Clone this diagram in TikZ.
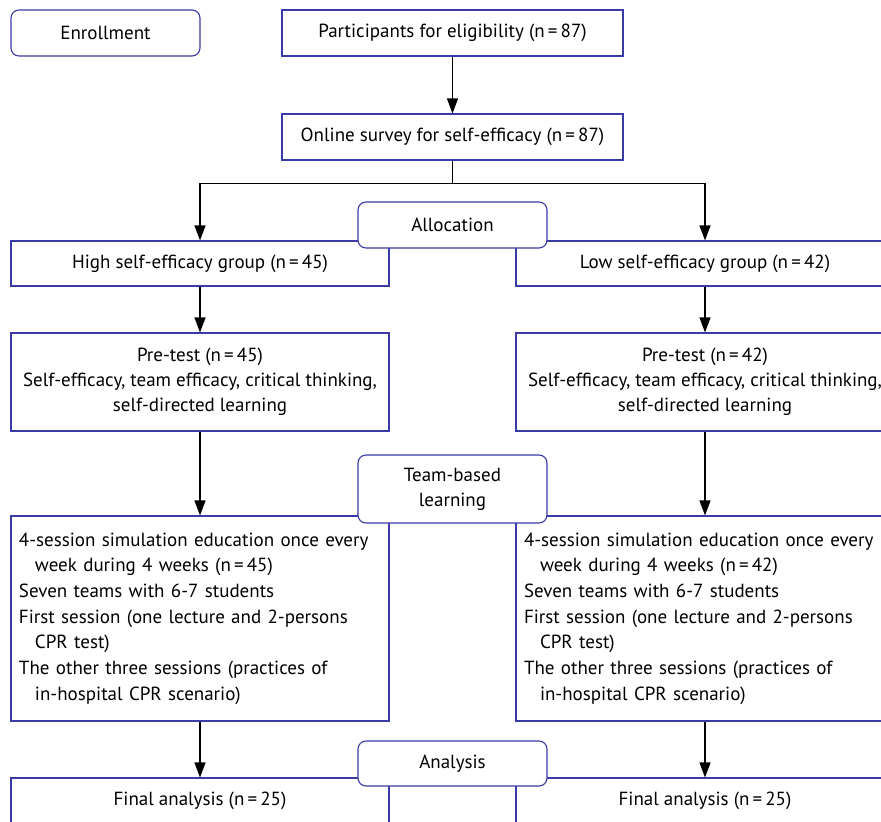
\documentclass[tikz,border=0pt]{standalone}
\usepackage{fontspec}
\setmainfont{PT Sans}
\usetikzlibrary{arrows.meta}
\definecolor{boxblue}{RGB}{58,58,168}
\tikzset{
  box/.style={draw=boxblue, line width=1.1pt, fill=white, rectangle, inner sep=0pt, align=center, font=\fontsize{19}{25}\selectfont},
  rbox/.style={box, rounded corners=8pt},
  edubox/.style={box, minimum width=378pt, minimum height=205pt, align=left, text width=362pt, font=\fontsize{19}{25.7}\selectfont},
  arr/.style={draw=black, line width=1.1pt, -{Triangle[width=11pt,length=15pt]}},
  ln/.style={draw=black, line width=1.1pt}
}
\begin{document}
\begin{tikzpicture}[x=1pt,y=-1pt]
\useasboundingbox (0,0) rectangle (881,822);
\clip (0,0) rectangle (881,822);
% boxes
\node[rbox, minimum width=189pt, minimum height=46pt] (enr) at (105.5,33) {Enrollment};
\node[box, minimum width=341pt, minimum height=46pt] (part) at (452.5,33) {Participants for eligibility (n\,=\,87)};
\node[box, minimum width=341pt, minimum height=46pt] (onl) at (452.5,137) {Online survey for self-efficacy (n\,=\,87)};
\node[box, minimum width=378pt, minimum height=45pt] (high) at (200,263.5) {High self-efficacy group (n\,=\,45)};
\node[box, minimum width=378pt, minimum height=45pt] (low) at (705,263.5) {Low self-efficacy group (n\,=\,42)};
\node[box, minimum width=378pt, minimum height=98pt] (preL) at (200,382) {Pre-test (n\,=\,45)\\Self-efficacy, team efficacy, critical thinking,\\self-directed learning};
\node[box, minimum width=378pt, minimum height=98pt] (preR) at (705,382) {Pre-test (n\,=\,42)\\Self-efficacy, team efficacy, critical thinking,\\self-directed learning};
\node[edubox] (eduL) at (200,618.5) {4-session simulation education once every\\\hspace*{16pt}week during 4 weeks (n\,=\,45)\\Seven teams with 6-7 students\\First session (one lecture and 2-persons\\\hspace*{16pt}CPR test)\\The other three sessions (practices of\\\hspace*{16pt}in-hospital CPR scenario)};
\node[edubox] (eduR) at (705,618.5) {4-session simulation education once every\\\hspace*{16pt}week during 4 weeks (n\,=\,42)\\Seven teams with 6-7 students\\First session (one lecture and 2-persons\\\hspace*{16pt}CPR test)\\The other three sessions (practices of\\\hspace*{16pt}in-hospital CPR scenario)};
\node[box, minimum width=378pt, minimum height=46pt] (finL) at (200,801) {Final analysis (n\,=\,25)};
\node[box, minimum width=378pt, minimum height=46pt] (finR) at (705,801) {Final analysis (n\,=\,25)};
% connectors
\draw[arr] (part.south) -- (onl.north);
\draw[ln] (onl.south) -- ++(0,23) coordinate (split);
\draw[arr] (split) -| (high.north);
\draw[arr] (split) -| (low.north);
\draw[arr] (high.south) -- (preL.north);
\draw[arr] (low.south) -- (preR.north);
\draw[arr] (preL.south) -- (eduL.north);
\draw[arr] (preR.south) -- (eduR.north);
\draw[arr] (eduL.south) -- (finL.north);
\draw[arr] (eduR.south) -- (finR.north);
% stage labels on top
\node[rbox, minimum width=189pt, minimum height=46pt] (alloc) at (452.5,225) {Allocation};
\node[rbox, minimum width=189pt, minimum height=68pt] (tbl) at (452.5,489) {Team-based\\learning};
\node[rbox, minimum width=189pt, minimum height=45pt] (anal) at (452.5,763.5) {Analysis};
\end{tikzpicture}
\end{document}
